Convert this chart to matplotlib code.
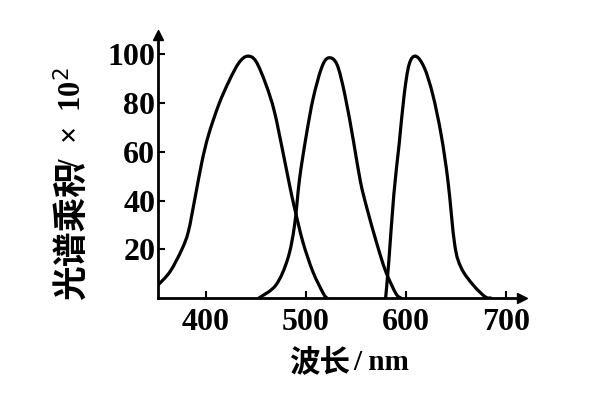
import matplotlib
matplotlib.use("Agg")
import matplotlib.pyplot as plt
from matplotlib.path import Path
from matplotlib.patches import PathPatch
import numpy as np

# ---- data ----
wl_1 = [352, 364, 375.7, 382.4, 389, 396, 402.6, 412.8, 423, 433, 441.5, 450, 460, 468.4, 477, 483.6, 488.7, 497, 507, 517.4, 521]
val_1 = [5.3, 10.8, 19.8, 27.3, 41, 56, 67, 79.4, 89, 96.6, 99.3, 97.2, 87.7, 76.7, 60, 46.5, 36.9, 23, 10.8, 1.9, 0]

wl_2 = [453, 470, 482, 488.7, 493.7, 500.5, 507.3, 515.7, 522.5, 531, 539, 547.8, 554.5, 561, 571.4, 580, 590, 595]
val_2 = [0, 5.3, 16.3, 30, 49, 67, 82, 94.5, 98.6, 96, 83.5, 64, 48, 37, 21.8, 10.8, 1.9, 0]

wl_3 = [579.8, 583, 588, 593.3, 598.4, 603.4, 610, 618.6, 627, 635.4, 642.2, 649, 655.7, 667.5, 679.4, 685]
val_3 = [0, 15, 42.4, 63, 83.5, 96, 99.3, 94.5, 83.5, 67, 48, 21.8, 12.2, 5.3, 0.5, 0]

x_ticks = [400, 500, 600, 700]
y_ticks = [20, 40, 60, 80, 100]
x_label_cn = "波长"
x_label_unit = "/ nm"
y_label_cn = "光谱乘积"
y_label_unit = r"/  ×  10$^{2}$"

serif = "Liberation Serif"
cjk = "Noto Sans CJK SC"


def smooth_path(xs, ys):
    """Catmull-Rom curve through the data points, drawn as cubic Bezier segments."""
    p = np.column_stack([xs, ys]).astype(float)
    verts = [p[0]]
    codes = [Path.MOVETO]
    n = len(p)
    for i in range(n - 1):
        p0 = p[i - 1] if i > 0 else p[i]
        p1, p2 = p[i], p[i + 1]
        p3 = p[i + 2] if i + 2 < n else p[i + 1]
        c1 = p1 + (p2 - p0) / 6.0
        c2 = p2 - (p3 - p1) / 6.0
        verts += [c1, c2, p2]
        codes += [Path.CURVE4] * 3
    return Path(verts, codes)


fig = plt.figure(figsize=(6, 4), dpi=100)
ax = fig.add_axes([158/600, 102/400, (521.7-158)/600, (298-35)/400])

for wl, v in [(wl_1, val_1), (wl_2, val_2), (wl_3, val_3)]:
    ax.add_patch(PathPatch(smooth_path(wl, v), facecolor="none", edgecolor="black",
                           lw=2.3, joinstyle="round", capstyle="round"))

ax.set_xlim(352, 716)
ax.set_ylim(0, 108)
for s in ["top", "right"]:
    ax.spines[s].set_visible(False)
for s in ["left", "bottom"]:
    ax.spines[s].set_linewidth(2.0)

ax.plot(1, 0, ">", color="black", ms=7, transform=ax.transAxes, clip_on=False)
ax.plot(0, 1, "^", color="black", ms=7, transform=ax.transAxes, clip_on=False)

ax.set_xticks(x_ticks)
ax.set_yticks(y_ticks)
ax.tick_params(direction="in", length=5, width=1.5)
ax.tick_params(axis="x", pad=7)
ax.tick_params(axis="y", pad=2)
for lab in ax.get_xticklabels() + ax.get_yticklabels():
    lab.set_fontfamily(serif)
    lab.set_fontsize(23)
    lab.set_fontweight("bold")

# x label: Chinese part + unit
fig.text(320/600, 1 - 362/400, x_label_cn, family=cjk, fontsize=22, fontweight="bold",
         ha="center", va="center")
fig.text(353/600, 1 - 362/400, x_label_unit, family=serif, fontsize=21, fontweight="bold",
         ha="left", va="center")

# y label: rotated, Chinese part + unit
fig.text(71/600, 1 - 300/400, y_label_cn, family=cjk, fontsize=25, fontweight="bold",
         rotation=90, ha="center", va="bottom")
fig.text(72/600, 1 - 168/400, y_label_unit, family=serif, fontsize=22, fontweight="bold",
         rotation=90, ha="center", va="bottom")

fig.savefig("out.png", dpi=100, facecolor="white")
